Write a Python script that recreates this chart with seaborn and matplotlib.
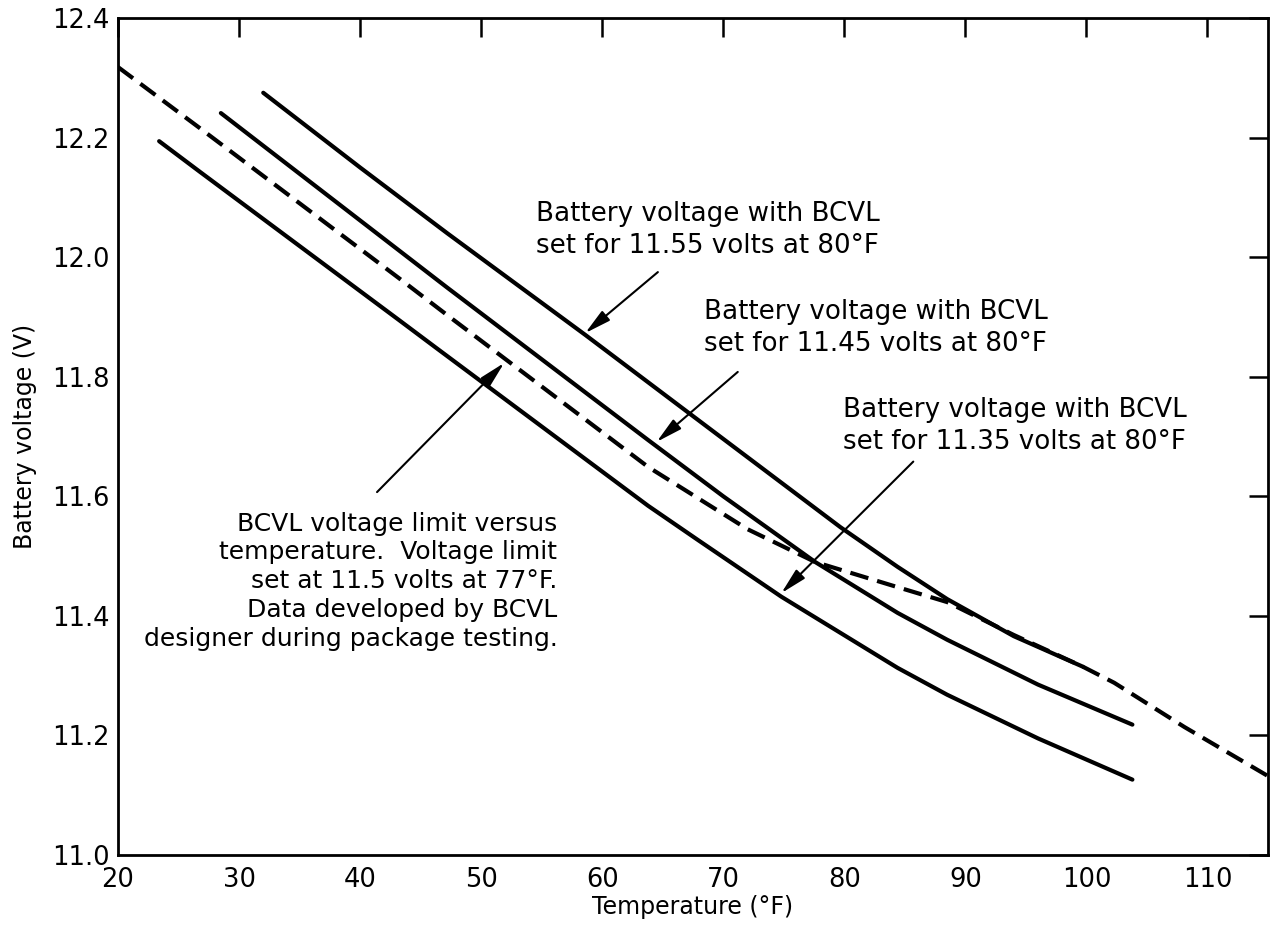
import matplotlib
matplotlib.use("Agg")
import matplotlib.pyplot as plt
import seaborn as sns
import pandas as pd

# ---- data ----
temp_1135 = [23.4, 26.75, 43.2, 46.3, 63.8, 67.9, 74.8, 84.4, 88.5, 96.0, 103.8]
volt_1135 = [12.194, 12.143, 11.895, 11.848, 11.584, 11.527, 11.432, 11.313, 11.268, 11.195, 11.126]

temp_1145 = [28.5, 47.2, 63.8, 70.0, 77.6, 84.4, 88.5, 96.0, 103.8]
volt_1145 = [12.241, 11.949, 11.694, 11.600, 11.490, 11.405, 11.360, 11.285, 11.218]

temp_1155 = [32.0, 40.0, 47.2, 58.6, 67.9, 79.7, 84.4, 88.5, 94.0, 99.7]
volt_1155 = [12.275, 12.150, 12.040, 11.870, 11.728, 11.548, 11.482, 11.428, 11.366, 11.315]

temp_limit = [20.0, 26.75, 43.2, 47.2, 63.8, 67.9, 72.0, 77.6, 84.4, 88.5, 94.0, 99.7, 102.3, 108.1, 115.0]
volt_limit = [12.318, 12.216, 11.965, 11.903, 11.649, 11.597, 11.545, 11.490, 11.448, 11.423, 11.368, 11.315, 11.288, 11.214, 11.132]

x_ticks = [20, 30, 40, 50, 60, 70, 80, 90, 100, 110]
y_ticks = [11.0, 11.2, 11.4, 11.6, 11.8, 12.0, 12.2, 12.4]

label_1155 = "Battery voltage with BCVL\nset for 11.55 volts at 80°F"
label_1145 = "Battery voltage with BCVL\nset for 11.45 volts at 80°F"
label_1135 = "Battery voltage with BCVL\nset for 11.35 volts at 80°F"
label_limit = ("BCVL voltage limit versus\ntemperature.  Voltage limit\n"
               "set at 11.5 volts at 77°F.\nData developed by BCVL\n"
               "designer during package testing.")

# ---- style ----
sns.set_style("white")
plt.rcParams["font.family"] = ["DejaVu Sans"]
plt.rcParams["text.color"] = "black"
plt.rcParams["axes.labelcolor"] = "black"
plt.rcParams["xtick.color"] = "black"
plt.rcParams["ytick.color"] = "black"

fig = plt.figure(figsize=(12.7, 9.39), dpi=100)
ax = fig.add_axes([0.0929, 0.0895, 0.9055, 0.8913])

lw = 3.0
for t, v in [(temp_1135, volt_1135), (temp_1145, volt_1145), (temp_1155, volt_1155)]:
    df = pd.DataFrame({"t": t, "v": v})
    sns.lineplot(data=df, x="t", y="v", ax=ax, color="black", linewidth=lw,
                 sort=False, estimator=None, solid_capstyle="round")

df_lim = pd.DataFrame({"t": temp_limit, "v": volt_limit})
sns.lineplot(data=df_lim, x="t", y="v", ax=ax, color="black", linewidth=lw,
             sort=False, estimator=None, dashes=False, linestyle=(0, (4.5, 2.2)))

ax.set_xlim(20, 115)
ax.set_ylim(11.0, 12.4)
ax.set_xticks(x_ticks)
ax.set_yticks(y_ticks)
ax.set_yticklabels([f"{v:.1f}" for v in y_ticks])
ax.tick_params(direction="in", length=14, width=1.8, top=True, right=True,
               labelsize=18.5, colors="black")
ax.tick_params(axis="x", pad=9)
ax.tick_params(axis="y", pad=6)
for s in ax.spines.values():
    s.set_linewidth(2.0)
    s.set_color("black")
    s.set_visible(True)

ax.set_xlabel("Temperature (°F)", fontsize=17, labelpad=1)
ax.set_ylabel("Battery voltage (V)", fontsize=17, labelpad=11)

fs = 18.8
ls = 1.3
ax.text(54.5, 12.045, label_1155, fontsize=fs, ha="left", va="center", linespacing=ls)
ax.text(68.4, 11.882, label_1145, fontsize=fs, ha="left", va="center", linespacing=ls)
ax.text(79.9, 11.718, label_1135, fontsize=fs, ha="left", va="center", linespacing=ls)
ax.text(56.3, 11.458, label_limit, fontsize=18, ha="right", va="center",
        multialignment="right", linespacing=1.25)

arrow = dict(arrowstyle="-|>,head_length=0.72,head_width=0.17", lw=1.5, color="black",
             shrinkA=0, shrinkB=0, mutation_scale=22)
ax.annotate("", xy=(58.6, 11.873), xytext=(64.6, 11.975), arrowprops=arrow)
ax.annotate("", xy=(64.5, 11.691), xytext=(71.2, 11.808), arrowprops=arrow)
ax.annotate("", xy=(74.8, 11.438), xytext=(85.7, 11.658), arrowprops=arrow)
ax.annotate("", xy=(51.9, 11.823), xytext=(41.4, 11.607), arrowprops=arrow)

fig.savefig("out.png", dpi=100)
